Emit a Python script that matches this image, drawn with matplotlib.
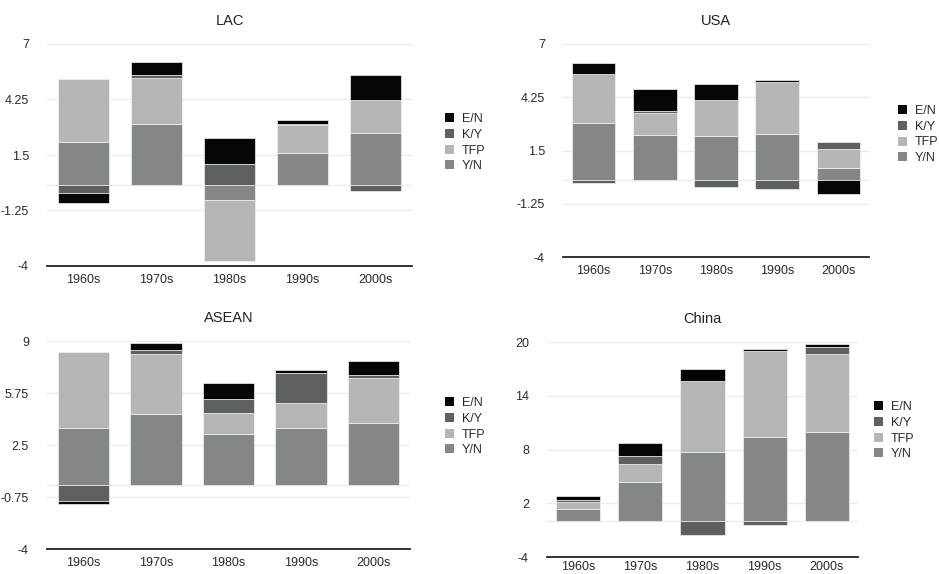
import numpy as np
import matplotlib
matplotlib.use("Agg")
import matplotlib.pyplot as plt
from matplotlib.patches import Patch

plt.rcParams["font.family"] = ["Liberation Sans", "DejaVu Sans"]

decades = ["1960s", "1970s", "1980s", "1990s", "2000s"]
series = ["Y/N", "TFP", "K/Y", "E/N"]          # stacking order, bottom up
colors = {"Y/N": "#838884", "TFP": "#b5b5b5", "K/Y": "#5c605e", "E/N": "#060606"}

# values
lac_yn = [2.15, 3.03, -0.73, 1.60, 2.58]
lac_tfp = [3.11, 2.28, -3.01, 1.37, 1.64]
lac_ky = [-0.38, 0.15, 1.06, 0.05, -0.28]
lac_en = [-0.50, 0.63, 1.29, 0.22, 1.26]

usa_yn = [2.91, 2.31, 2.26, 2.36, 0.62]
usa_tfp = [2.53, 1.14, 1.86, 2.67, 0.97]
usa_ky = [-0.17, 0.10, -0.38, -0.48, 0.36]
usa_en = [0.57, 1.12, 0.83, 0.12, -0.74]

asean_yn = [3.56, 4.44, 3.19, 3.56, 3.88]
asean_tfp = [4.75, 3.73, 1.29, 1.56, 2.79]
asean_ky = [-1.02, 0.25, 0.90, 1.85, 0.19]
asean_en = [-0.15, 0.44, 0.98, 0.21, 0.87]

china_yn = [1.34, 4.39, 7.74, 9.41, 9.93]
china_tfp = [0.78, 1.97, 7.96, 9.53, 8.78]
china_ky = [0.22, 0.89, -1.53, -0.41, 0.78]
china_en = [0.45, 1.45, 1.34, 0.25, 0.33]

lac_ticks = [-4, -1.25, 1.5, 4.25, 7]
usa_ticks = [-4, -1.25, 1.5, 4.25, 7]
asean_ticks = [-4, -0.75, 2.5, 5.75, 9]
china_ticks = [-4, 2, 8, 14, 20]

W, H = 939, 574


def px(l, t, r, b):
    return [l / W, 1 - b / H, (r - l) / W, (b - t) / H]


def panel(fig, rect, title, data, ticks, leg_xy, xpad=6):
    ax = fig.add_axes(px(*rect))
    x = np.arange(len(decades))
    pos = np.zeros(len(decades))
    neg = np.zeros(len(decades))
    for name in series:
        v = np.array(data[name])
        base = np.where(v >= 0, pos, neg)
        ax.bar(x, v, 0.71, bottom=base, color=colors[name],
               edgecolor="#f2f2f2", linewidth=0.5, zorder=3)
        pos = pos + np.where(v >= 0, v, 0)
        neg = neg + np.where(v < 0, v, 0)
    ax.set_xlim(-0.5, 4.5)
    ax.set_ylim(ticks[0], ticks[-1])
    ax.set_yticks(ticks)
    ax.set_yticklabels([f"{t:g}" for t in ticks])
    ax.set_xticks(x)
    ax.set_xticklabels(decades)
    for t in ticks[1:]:
        ax.axhline(t, color="#ebebeb", lw=1, zorder=1)
    ax.axhline(0, color="#ebebeb", lw=1, zorder=1)
    for s in ("top", "right", "left"):
        ax.spines[s].set_visible(False)
    ax.spines["bottom"].set_color("#222")
    ax.spines["bottom"].set_linewidth(1.3)
    ax.spines["bottom"].set_zorder(4)
    ax.tick_params(axis="y", length=0, pad=13, labelsize=9, labelcolor="#2a2a2a")
    ax.tick_params(axis="x", length=0, pad=xpad, labelsize=9, labelcolor="#2a2a2a")
    ax.set_title(title, fontsize=10.5, color="#222", pad=14)
    handles = [Patch(facecolor=colors[n], edgecolor="none") for n in series[::-1]]
    fig.legend(handles, series[::-1], loc="upper left",
               bbox_to_anchor=(leg_xy[0] / W, 1 - leg_xy[1] / H),
               frameon=False, fontsize=9, handlelength=0.75, handleheight=0.75,
               handletextpad=0.6, labelspacing=0.3, borderpad=0, borderaxespad=0,
               labelcolor="#2a2a2a")
    return ax


fig = plt.figure(figsize=(W / 100, H / 100), dpi=100)

panel(fig, (47, 44, 412, 266), "LAC",
      {"Y/N": lac_yn, "TFP": lac_tfp, "K/Y": lac_ky, "E/N": lac_en},
      lac_ticks, (445, 113))
panel(fig, (563, 44, 869, 257), "USA",
      {"Y/N": usa_yn, "TFP": usa_tfp, "K/Y": usa_ky, "E/N": usa_en},
      usa_ticks, (898, 105))
panel(fig, (47, 341, 410, 549), "ASEAN",
      {"Y/N": asean_yn, "TFP": asean_tfp, "K/Y": asean_ky, "E/N": asean_en},
      asean_ticks, (445, 397))
panel(fig, (547, 342, 858, 557), "China",
      {"Y/N": china_yn, "TFP": china_tfp, "K/Y": china_ky, "E/N": china_en},
      china_ticks, (874, 401), xpad=3)

fig.savefig("out.png", dpi=100)
